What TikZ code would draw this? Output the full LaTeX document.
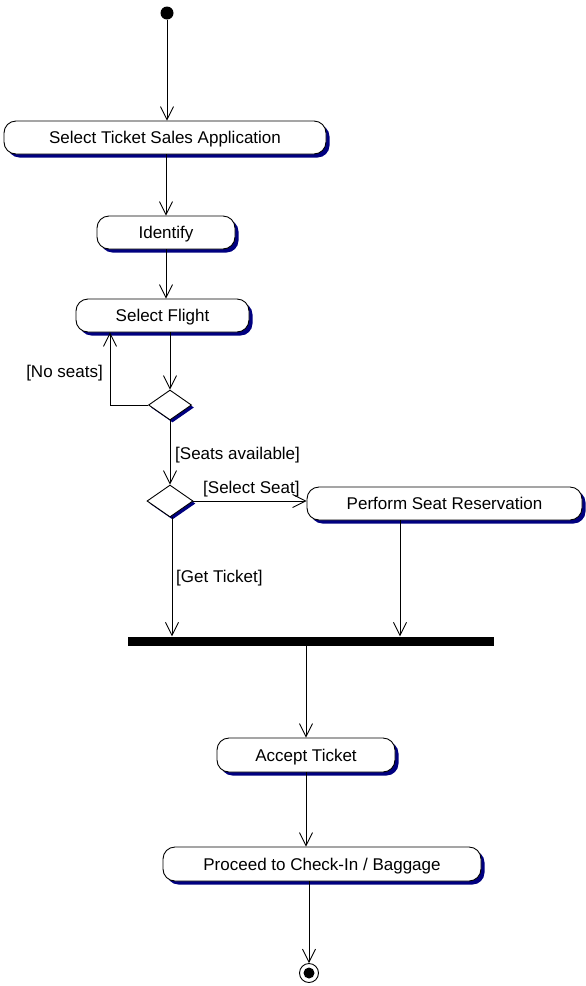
\documentclass[tikz,border=0pt]{standalone}
\usepackage{fontspec}
\setmainfont{Liberation Sans}
\usetikzlibrary{arrows.meta,shapes.geometric,shadows}
\definecolor{shade}{RGB}{0,0,128}
\tikzset{
  activity/.style={draw, line width=0.9pt, fill=white, rounded corners=12pt,
    minimum height=33pt, inner sep=0pt, text height=12pt, text depth=0pt,
    drop shadow={shadow xshift=3.5pt, shadow yshift=-3.5pt, fill=shade, opacity=1}},
  decision/.style={draw, line width=0.9pt, fill=white, diamond, inner sep=0pt,
    drop shadow={shadow xshift=2.5pt, shadow yshift=-2.5pt, fill=shade, opacity=1}},
  flow/.style={line width=0.9pt, -{Straight Barb[length=13pt,width=13pt,line width=0.9pt]}},
  guard/.style={inner sep=0pt},
  every node/.append style={font=\fontsize{17}{20}\selectfont}
}
\begin{document}
\begin{tikzpicture}[x=1pt,y=-1pt]
\useasboundingbox (0,0) rectangle (586,986);
\fill[white] (0,0) rectangle (586,986);

% start and end states
\node[circle, fill=black, minimum size=13pt, inner sep=0pt] (start) at (167,13) {};
\node[circle, draw, line width=0.9pt, fill=white, minimum size=19pt, inner sep=0pt] (finish) at (309,973) {};
\fill[black] (finish.center) circle (5.5pt);

% activities
\node[activity, minimum width=322pt] (sts) at (165,137.5) {Select Ticket Sales Application};
\node[activity, minimum width=138pt] (ident) at (166,232.5) {Identify};
\node[activity, minimum width=173pt] (flight) at (162.5,315.5) {Select Flight};
\node[activity, minimum width=275pt] (psr) at (444.5,503.5) {Perform Seat Reservation};
\node[activity, minimum width=178pt, minimum height=34pt] (accept) at (306,755) {Accept Ticket};
\node[activity, minimum width=318pt, minimum height=34pt] (proceed) at (322,864) {Proceed to Check-In / Baggage};

% decisions
\node[decision, minimum width=43pt, minimum height=30pt] (d1) at (170,405) {};
\node[decision, minimum width=46pt, minimum height=32pt] (d2) at (170,501) {};

% synchronisation bar
\node[fill=black, minimum width=366pt, minimum height=9pt, inner sep=0pt] (bar) at (311,641) {};

% helper points
\coordinate (loop) at (110,405);
\coordinate (psrx) at (400,0);
\coordinate (ticketx) at (172,0);

% transitions
\draw[flow] (start) -- (sts.north -| start);
\draw[flow] (sts.south -| ident) -- (ident.north);
\draw[flow] (ident.south) -- (flight.north -| ident.south);
\draw[flow] (flight.south -| d1) -- (d1.north);
\draw[flow] (d1.west) -- (loop) -- (loop |- flight.south);
\draw[flow] (d1.south) -- (d2.north);
\draw[flow] (d2.east) -- (psr.west |- d2.east);
\draw[flow] (d2.south -| ticketx) -- (bar.north -| ticketx);
\draw[flow] (psr.south -| psrx) -- (bar.north -| psrx);
\draw[flow] (bar.south -| accept) -- (accept.north);
\draw[flow] (accept.south) -- (proceed.north -| accept.south);
\draw[flow] (proceed.south -| finish) -- (finish.north);

% guards
\node[guard, anchor=east] (gno) at (103,373) {[No seats]};
\node[guard, anchor=west] (gavail) at (175,455) {[Seats available]};
\node[guard, anchor=west] (gseat) at (203,489) {[Select Seat]};
\node[guard, anchor=west] (gticket) at (176,578) {[Get Ticket]};
\end{tikzpicture}
\end{document}
